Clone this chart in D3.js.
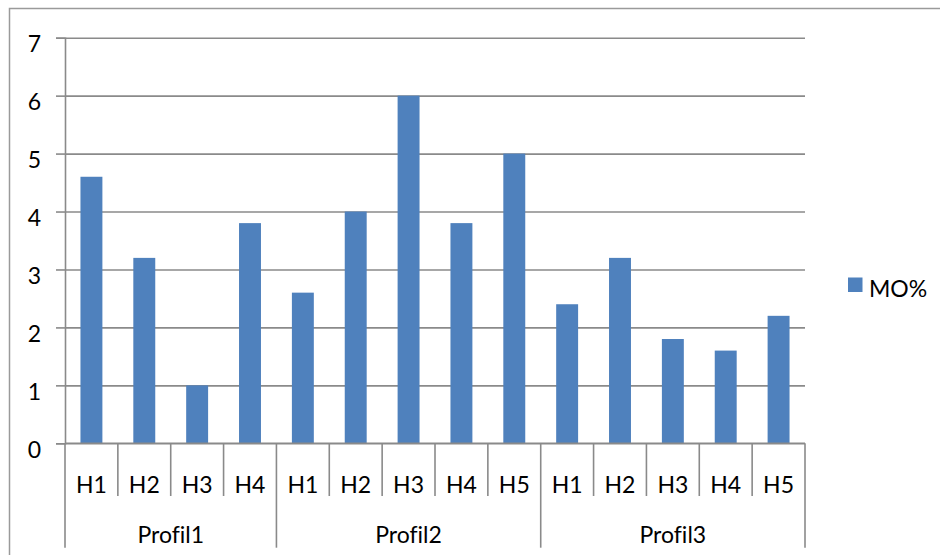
<!DOCTYPE html>
<html>
<head>
<meta charset="utf-8">
<script src="https://cdn.jsdelivr.net/npm/d3@7"></script>
<style>
  html, body { margin: 0; padding: 0; background: #fff; }
  svg { display: block; font-family: Lato, "Liberation Sans", sans-serif; font-variant-ligatures: none; font-feature-settings: "liga" 0, "clig" 0; }
</style>
</head>
<body>
<svg id="chart" width="940" height="555"></svg>
<script>
// Organic matter content (MO%) per horizon, grouped by soil profile
const profiles = ["Profil1", "Profil2", "Profil3"];
const horizons = [
  ["H1", "H2", "H3", "H4"],
  ["H1", "H2", "H3", "H4", "H5"],
  ["H1", "H2", "H3", "H4", "H5"]
];
const moValues = [
  [4.6, 3.2, 1.0, 3.8],
  [2.6, 4.0, 6.0, 3.8, 5.0],
  [2.4, 3.2, 1.8, 1.6, 2.2]
];
const yTicks = [0, 1, 2, 3, 4, 5, 6, 7];
const seriesName = "MO%";

(function () {
  const rows = [];
  profiles.forEach((p, i) => {
    horizons[i].forEach((h, j) => {
      rows.push({ key: p + "|" + h, profile: p, horizon: h, value: moValues[i][j] });
    });
  });

  const svg = d3.select("#chart");
  const plotLeft = 65, plotRight = 805, plotTop = 37.7, plotBottom = 443.3;
  const barColor = "#4F81BD";
  const gridColor = "#8a8a8a";
  const fontSize = 23;

  // outer frame
  svg.append("path")
    .attr("d", "M9.5,556 L9.5,8.5 L941,8.5")
    .attr("fill", "none")
    .attr("stroke", "#9a9a9a")
    .attr("stroke-width", 1.5);

  const x = d3.scaleBand().domain(rows.map(d => d.key)).range([plotLeft, plotRight]).paddingInner(0).paddingOuter(0);
  const y = d3.scaleLinear().domain([0, 7]).range([plotBottom, plotTop]);

  // gridlines
  const grid = svg.append("g")
    .attr("transform", `translate(${plotLeft},0)`)
    .call(d3.axisLeft(y).tickValues(yTicks).tickSize(-(plotRight - plotLeft)).tickFormat(""));
  grid.select(".domain").remove();
  grid.selectAll("line").attr("stroke", gridColor).attr("stroke-width", 1.6);

  // y axis
  const yAxis = svg.append("g")
    .attr("transform", `translate(${plotLeft},0)`)
    .call(d3.axisLeft(y).tickValues(yTicks).tickSize(9).tickPadding(15).tickFormat(d3.format("d")));
  yAxis.select(".domain").attr("stroke", gridColor).attr("stroke-width", 1.6);
  yAxis.selectAll("line").attr("stroke", gridColor).attr("stroke-width", 1.6);
  yAxis.selectAll("text")
    .attr("font-size", fontSize)
    .attr("font-family", "Lato, 'Liberation Sans', sans-serif")
    .attr("fill", "#000")
    .attr("dy", "0.6em");

  // bars
  const bw = x.bandwidth() * 0.415;
  svg.append("g").selectAll("rect")
    .data(rows)
    .join("rect")
    .attr("x", d => x(d.key) + (x.bandwidth() - bw) / 2)
    .attr("width", bw)
    .attr("y", d => y(d.value))
    .attr("height", d => y(0) - y(d.value))
    .attr("fill", barColor);

  // category axis
  const xg = svg.append("g");
  xg.append("line")
    .attr("x1", plotLeft).attr("x2", plotRight)
    .attr("y1", plotBottom).attr("y2", plotBottom)
    .attr("stroke", gridColor).attr("stroke-width", 1.6);

  // horizon dividers; the ones between profiles run further down
  const groupStarts = new Set();
  let idx = 0;
  horizons.forEach(hs => { groupStarts.add(idx); idx += hs.length; });
  groupStarts.add(rows.length);

  for (let k = 0; k <= rows.length; k++) {
    const xx = k < rows.length ? x(rows[k].key) : plotRight;
    const long = groupStarts.has(k);
    xg.append("line")
      .attr("x1", xx).attr("x2", xx)
      .attr("y1", plotBottom).attr("y2", long ? 547.7 : 496)
      .attr("stroke", gridColor).attr("stroke-width", 1.6);
  }

  xg.selectAll("text.h")
    .data(rows)
    .join("text")
    .attr("class", "h")
    .attr("x", d => x(d.key) + x.bandwidth() / 2)
    .attr("y", 493)
    .attr("text-anchor", "middle")
    .attr("font-size", fontSize)
    .attr("fill", "#000")
    .text(d => d.horizon);

  // profile labels
  let start = 0;
  profiles.forEach((p, i) => {
    const first = rows[start].key;
    const last = rows[start + horizons[i].length - 1].key;
    const cx = (x(first) + x(last) + x.bandwidth()) / 2;
    xg.append("text")
      .attr("x", cx)
      .attr("y", 543)
      .attr("text-anchor", "middle")
      .attr("font-size", fontSize)
      .attr("fill", "#000")
      .text(p);
    start += horizons[i].length;
  });

  // legend
  const legend = svg.append("g");
  legend.append("rect")
    .attr("x", 848).attr("y", 277.5)
    .attr("width", 14.5).attr("height", 14.5)
    .attr("fill", barColor);
  legend.append("text")
    .attr("x", 869).attr("y", 297)
    .attr("font-size", fontSize)
    .attr("fill", "#000")
    .text(seriesName);
})();
</script>
</body>
</html>
